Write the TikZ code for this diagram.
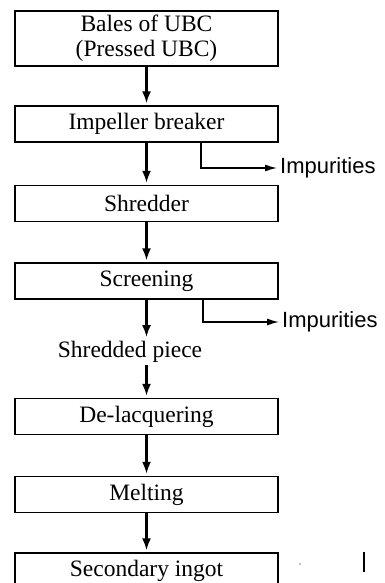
\documentclass[tikz,border=0pt]{standalone}
\usepackage{fontspec}
\newfontfamily\boxfont{Liberation Serif}
\newfontfamily\sidefont{Liberation Sans}
\usepackage{tikz}
\usetikzlibrary{arrows.meta,calc}
\tikzset{
  procbox/.style={draw, line width=1.3pt, minimum width=263pt, minimum height=36pt,
    inner sep=0pt, align=center, font=\boxfont\fontsize{23.5}{25}\selectfont},
  flowarrow/.style={line width=2.2pt, -{Latex[length=12pt,width=9pt]}, shorten >=2pt},
  sidearrow/.style={line width=1.4pt, -{Latex[length=12pt,width=7pt]}},
  sidetext/.style={right, inner sep=3pt, font=\sidefont\fontsize{22}{24}\selectfont}
}

\begin{document}
\begin{tikzpicture}[x=1pt,y=1pt]
\clip (0,0) rectangle (385,-583);
% process steps
\node[procbox, minimum height=55pt] (bales) at (146.5,-38.5) {Bales of UBC\\(Pressed UBC)};
\node[procbox] (impeller) at (146.5,-124) {Impeller breaker};
\node[procbox] (shredder) at (146.5,-203.5) {Shredder};
\node[procbox] (screening) at (146.5,-281) {Screening};
\node[font=\boxfont\fontsize{23.5}{25}\selectfont, inner sep=2pt] (shredded) at (130,-352) {Shredded piece};
\node[procbox] (delacq) at (146.5,-416.5) {De-lacquering};
\node[procbox] (melting) at (146.5,-494.5) {Melting};
\node[procbox] (ingot) at (146.5,-571) {Secondary ingot};
% side outputs
\coordinate (tapA) at (201,-142);
\coordinate (tapB) at (203,-300);
\node[sidetext] (impA) at (277,-168) {Impurities};
\node[sidetext] (impB) at (279,-322) {Impurities};

\draw[flowarrow] (bales) -- (impeller);
\draw[flowarrow] (impeller) -- (shredder);
\draw[flowarrow] (shredder) -- (screening);
\draw[flowarrow] (screening.south) -- (screening.south |- shredded.north);
\draw[flowarrow] (delacq.north |- shredded.south) -- (delacq.north);
\draw[flowarrow] (delacq) -- (melting);
\draw[flowarrow] (melting) -- (ingot);
\draw[sidearrow] (tapA) |- (impA.west);
\draw[sidearrow] (tapB) |- (impB.west);

% stray marks at the bottom edge
\draw[line width=1.2pt] (364,-552) -- (364,-572);
\fill (300,-564) circle (0.6pt);
\end{tikzpicture}
\end{document}
